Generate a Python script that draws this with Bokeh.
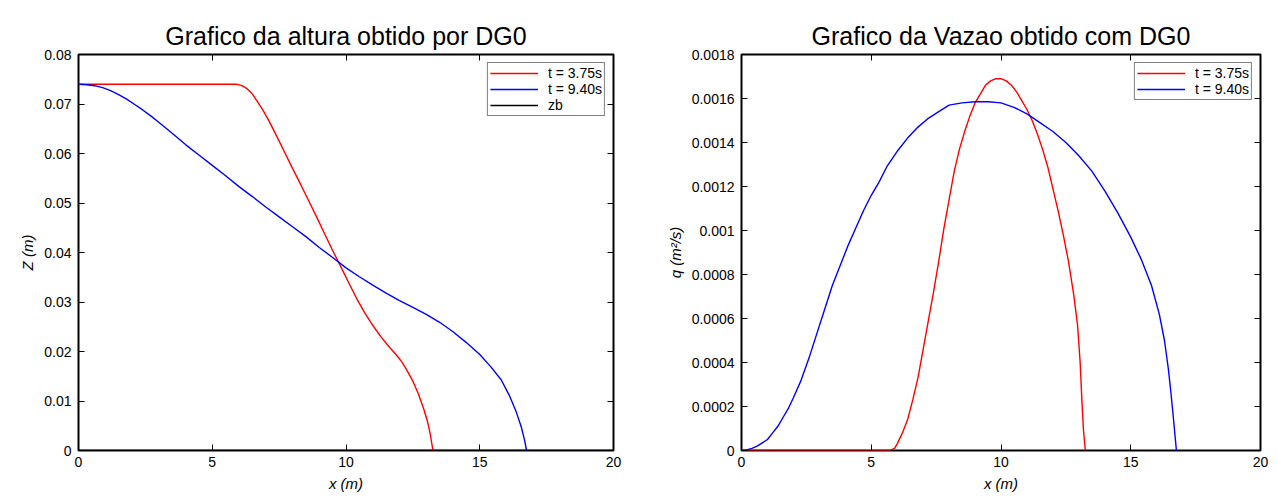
from bokeh.plotting import figure
from bokeh.layouts import row
from bokeh.models import LinearAxis, FixedTicker, Legend
from bokeh.embed import file_html
from bokeh.resources import INLINE

# ---------------- data: left panel (altura Z) ----------------
h_red_x = [0, 1, 2, 3, 4, 5, 5.6, 5.9, 6.1, 6.3, 6.5, 6.7, 6.9, 7.1, 7.4, 7.7, 8.0, 8.3,
           8.6, 8.9, 9.2, 9.5, 9.8, 10.1, 10.4, 10.7, 11.0, 11.3, 11.6, 11.9, 12.1, 12.3,
           12.5, 12.7, 12.9, 13.05, 13.15, 13.25]
h_red_z = [0.074, 0.074, 0.074, 0.074, 0.074, 0.074, 0.074, 0.0740, 0.0737, 0.0731, 0.0720,
           0.0704, 0.0687, 0.0668, 0.0636, 0.0603, 0.0570, 0.0538, 0.0505, 0.0472, 0.0438,
           0.0404, 0.0372, 0.0339, 0.0307, 0.0278, 0.0253, 0.0230, 0.0210, 0.0192, 0.0178,
           0.0160, 0.0140, 0.0115, 0.0085, 0.0058, 0.0033, 0.0]

h_blue_x = [0, 0.3, 0.6, 0.9, 1.2, 1.5, 1.8, 2.1, 2.4, 2.7, 3.0, 3.5, 4.0, 4.5, 5.0, 5.5,
            6.0, 6.5, 7.0, 7.5, 8.0, 8.5, 9.0, 9.5, 10.0, 10.5, 11.0, 11.5, 12.0, 12.5,
            13.0, 13.5, 14.0, 14.5, 15.0, 15.4, 15.8, 16.1, 16.35, 16.55, 16.68, 16.75]
h_blue_z = [0.074, 0.0739, 0.0737, 0.0733, 0.0727, 0.0719, 0.0710, 0.0699, 0.0688, 0.0676,
            0.0663, 0.0641, 0.0618, 0.0597, 0.0576, 0.0555, 0.0533, 0.0513, 0.0492, 0.0472,
            0.0452, 0.0432, 0.0410, 0.0390, 0.0369, 0.0351, 0.0334, 0.0318, 0.0303, 0.0289,
            0.0275, 0.0259, 0.0240, 0.0218, 0.0194, 0.0170, 0.0143, 0.0112, 0.0080, 0.0048,
            0.0020, 0.0]

zb_x = [0, 20]
zb_z = [0, 0]

# ---------------- data: right panel (vazao q) ----------------
q_red_x = [0, 5.0, 5.7, 5.8, 5.9, 6.0, 6.2, 6.4, 6.6, 6.8, 7.0, 7.2, 7.4, 7.6, 7.8, 8.0,
           8.2, 8.4, 8.6, 8.8, 9.0, 9.2, 9.4, 9.6, 9.8, 10.0, 10.2, 10.4, 10.6, 10.8, 11.0,
           11.2, 11.4, 11.6, 11.8, 12.0, 12.2, 12.4, 12.6, 12.8, 12.95, 13.05, 13.12, 13.18,
           13.25]
q_red_q = [0, 0, 0, 0.000005, 0.00001, 0.00003, 0.00008, 0.00014, 0.00023, 0.00033, 0.00046,
           0.00059, 0.00072, 0.00086, 0.00101, 0.00114, 0.00127, 0.00137, 0.00145, 0.00152,
           0.00158, 0.00162, 0.00166, 0.00168, 0.00169, 0.00169, 0.00168, 0.00166, 0.00163,
           0.00159, 0.00155, 0.00150, 0.00144, 0.00137, 0.00129, 0.00119, 0.00109, 0.00098,
           0.00086, 0.00071, 0.00057, 0.00040, 0.00022, 0.00009, 0.0]

q_blue_x = [0, 0.2, 0.4, 0.6, 0.8, 1.0, 1.2, 1.4, 1.6, 1.8, 2.0, 2.3, 2.6, 2.9, 3.2, 3.5,
            3.8, 4.1, 4.4, 4.7, 5.0, 5.3, 5.6, 6.0, 6.4, 6.8, 7.2, 7.6, 8.0, 8.5, 9.0, 9.5,
            10.0, 10.5, 11.0, 11.5, 12.0, 12.5, 13.0, 13.5, 14.0, 14.5, 15.0, 15.4, 15.8,
            16.1, 16.3, 16.45, 16.55, 16.65, 16.72, 16.76]
q_blue_q = [0, 0.000003, 0.00001, 0.00002, 0.000035, 0.00005, 0.00008, 0.00011, 0.00015,
            0.00019, 0.00024, 0.00032, 0.00042, 0.00053, 0.00064, 0.00075, 0.00084, 0.00093,
            0.00101, 0.00109, 0.00116, 0.00122, 0.00129, 0.00136, 0.00142, 0.00147, 0.00151,
            0.00154, 0.00157, 0.00158, 0.001585, 0.001585, 0.00158, 0.00156, 0.00153,
            0.00149, 0.00145, 0.00140, 0.00134, 0.00127, 0.00118, 0.00108, 0.00097, 0.00087,
            0.00075, 0.00062, 0.00050, 0.00037, 0.00026, 0.00014, 0.00005, 0.0]

# ---------------- ticks ----------------
x_ticks = [0, 5, 10, 15, 20]
x_labels = ["0", "5", "10", "15", "20"]
h_ticks = [0, 0.01, 0.02, 0.03, 0.04, 0.05, 0.06, 0.07, 0.08]
h_labels = ["0", "0.01", "0.02", "0.03", "0.04", "0.05", "0.06", "0.07", "0.08"]
q_ticks = [0, 0.0002, 0.0004, 0.0006, 0.0008, 0.001, 0.0012, 0.0014, 0.0016, 0.0018]
q_labels = ["0", "0.0002", "0.0004", "0.0006", "0.0008", "0.001", "0.0012", "0.0014",
            "0.0016", "0.0018"]

RED = "#ff0000"
BLUE = "#0000ff"
FONT = "Liberation Sans"


def style(p, yticks, ylabels, xlabel, ylabel):
    p.xgrid.visible = False
    p.ygrid.visible = False
    p.outline_line_color = "black"
    p.outline_line_width = 2
    p.title.text_font = FONT
    p.title.text_font_size = "25px"
    p.title.text_font_style = "normal"
    p.title.text_color = "black"
    p.title.align = "center"
    p.title.standoff = 10

    for ax, ticks, labels in ((p.xaxis[0], x_ticks, x_labels), (p.yaxis[0], yticks, ylabels)):
        ax.ticker = FixedTicker(ticks=ticks)
        ax.major_label_overrides = {t: l for t, l in zip(ticks, labels)}
        ax.major_tick_in = 6
        ax.major_tick_out = 0
        ax.minor_tick_line_color = None
        ax.axis_line_color = None
        ax.major_tick_line_color = "black"
        ax.major_label_text_font = FONT
        ax.major_label_text_font_size = "14px"
        ax.major_label_text_color = "black"
        ax.axis_label_text_font = FONT
        ax.axis_label_text_font_size = "15px"
        ax.axis_label_text_font_style = "italic"
        ax.axis_label_text_color = "black"
    p.xaxis[0].axis_label = xlabel
    p.yaxis[0].axis_label = ylabel
    p.xaxis[0].major_label_standoff = 6
    p.yaxis[0].major_label_standoff = 7
    p.xaxis[0].axis_label_standoff = 5
    p.yaxis[0].axis_label_standoff = 5

    # mirrored ticks (top and right), with empty labels
    for loc, ticks in (("above", x_ticks), ("right", yticks)):
        ax = LinearAxis(ticker=FixedTicker(ticks=ticks))
        ax.major_label_overrides = {t: "" for t in ticks}
        ax.major_tick_in = 6
        ax.major_tick_out = 0
        ax.minor_tick_line_color = None
        ax.axis_line_color = None
        ax.major_tick_line_color = "black"
        ax.major_label_standoff = 0
        p.add_layout(ax, loc)


def add_legend(p, items):
    leg = Legend(items=items, location="top_right")
    leg.border_line_color = "black"
    leg.border_line_width = 1
    leg.background_fill_alpha = 1
    leg.label_text_font = FONT
    leg.label_text_font_size = "14px"
    leg.label_text_color = "black"
    leg.label_height = 12
    leg.glyph_height = 12
    leg.glyph_width = 48
    leg.spacing = 0
    leg.padding = 2
    leg.margin = 8
    leg.label_standoff = 10
    p.add_layout(leg)


# ---------------- left figure ----------------
p1 = figure(width=640, height=497, output_backend="svg", toolbar_location=None,
            title="Grafico da altura obtido por DG0",
            x_range=(0, 20), y_range=(0, 0.08),
            min_border_left=78, min_border_right=27, min_border_top=54, min_border_bottom=47)
style(p1, h_ticks, h_labels, "x (m)", "Z (m)")
r1 = p1.line(h_red_x, h_red_z, line_color=RED, line_width=1.4)
r2 = p1.line(h_blue_x, h_blue_z, line_color=BLUE, line_width=1.4)
r3 = p1.line(zb_x, zb_z, line_color="black", line_width=1.5)
add_legend(p1, [("t = 3.75s", [r1]), ("t = 9.40s", [r2]), ("zb", [r3])])

# ---------------- right figure ----------------
p2 = figure(width=638, height=497, output_backend="svg", toolbar_location=None,
            title="Grafico da Vazao obtido com DG0",
            x_range=(0, 20), y_range=(0, 0.0018),
            min_border_left=101, min_border_right=18, min_border_top=54, min_border_bottom=47)
style(p2, q_ticks, q_labels, "x (m)", "q (m²/s)")
s1 = p2.line(q_red_x, q_red_q, line_color=RED, line_width=1.4)
s2 = p2.line(q_blue_x, q_blue_q, line_color=BLUE, line_width=1.4)
add_legend(p2, [("t = 3.75s", [s1]), ("t = 9.40s", [s2])])

layout = row(p1, p2)
open("out.html", "w").write(file_html(layout, INLINE))
